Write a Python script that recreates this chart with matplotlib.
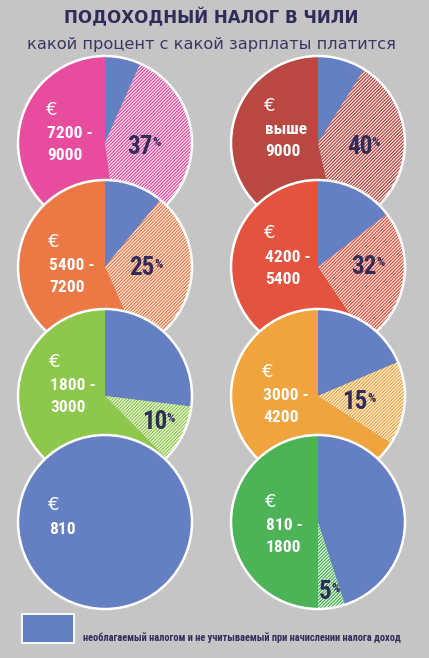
import matplotlib
matplotlib.use("Agg")
import matplotlib.pyplot as plt
from matplotlib.patches import Circle, Rectangle

# Данные: доли секторов (в градусах круга), по порядку: необлагаемый, налог, остальное
brackets = ["7200 -\n9000", "выше\n9000", "5400 -\n7200", "4200 -\n5400",
            "1800 -\n3000", "3000 -\n4200", "810", "810 -\n1800"]
tax_labels = ["37", "40", "25", "32", "10", "15", "", "5"]
exempt_share = [24.0, 32.0, 39.5, 52.6, 97.0, 67.0, 360.0, 162.0]
tax_share = [148.5, 135.5, 116.5, 93.4, 38.5, 56.0, 0.0, 18.0]
rest_share = [187.5, 192.5, 204.0, 214.0, 224.5, 237.0, 0.0, 180.0]
main_colors = ["#e84c9f", "#b94842", "#ec7845", "#e4533f",
               "#8dc74b", "#f0a43e", "#6480c2", "#4db357"]

BG = "#c5c5c5"
BLUE = "#6480c2"
NAVY = "#2f2c5a"
NARROW = ["DejaVu Sans Condensed", "Liberation Sans Narrow", "Roboto Condensed",
          "Open Sans Condensed", "DejaVu Sans"]

# раскладка: 4 ряда по 2 круга
cx = [105, 318]
cy = [143, 267, 396, 522]
R = 87
# позиции подписей диапазона (x левого края) и процента (правый край цифр, центр y)
label_x = [46, 264, 48, 264, 49, 262, 48, 265]
euro_y = [110, 106, 242, 233, 362, 372, 505, 502]
pct_x = [153, 372, 155, 377, 167, 368, 0, 332]
pct_y = [147, 147, 268, 267, 422, 402, 0, 592]

plt.rcParams["hatch.linewidth"] = 0.7

fig = plt.figure(figsize=(4.29, 6.58), dpi=100, facecolor=BG)
ax = fig.add_axes([0, 0, 1, 1])
ax.set_facecolor(BG)

for i in range(8):
    row, col = divmod(i, 2)
    x0, y0 = cx[col], cy[row]
    z = 2 + row * 3
    vals = [exempt_share[i], tax_share[i], rest_share[i]]
    wedges, _ = ax.pie(vals, colors=[BLUE, main_colors[i], main_colors[i]],
                       startangle=-90, counterclock=True, center=(x0, y0),
                       radius=R, frame=True,
                       wedgeprops=dict(edgecolor="white", linewidth=0, zorder=z))
    wedges[1].set_hatch("/" * 10)
    ax.add_patch(Circle((x0, y0), R, facecolor="none", edgecolor="white",
                        linewidth=1.8, zorder=z + 0.5))

    # подписи
    tx = label_x[i]
    ax.text(tx, euro_y[i], "€", color="white", fontsize=13, ha="left",
            va="center", zorder=z + 1)
    lines = brackets[i].split("\n")
    for k, line in enumerate(lines):
        ax.text(tx + 1, euro_y[i] + 24 + 22 * k, line, color="white",
                fontsize=12.5, fontweight="bold", family=NARROW,
                fontstretch="condensed", ha="left", va="center", zorder=z + 1)
    if tax_labels[i]:
        ax.text(pct_x[i], pct_y[i], tax_labels[i], color=NAVY, fontsize=18,
                fontweight="bold", family=NARROW, fontstretch="condensed",
                ha="right", va="center", zorder=z + 1)
        ax.text(pct_x[i] - 0.5, pct_y[i] - 10.5, "%", color=NAVY, fontsize=9.5,
                fontweight="bold", family=NARROW, fontstretch="condensed",
                ha="left", va="top", zorder=z + 1)

# заголовок
ax.text(211, 18, "ПОДОХОДНЫЙ НАЛОГ В ЧИЛИ", color=NAVY, fontsize=12,
        fontweight="bold", ha="center", va="center")
ax.text(211, 44, "какой процент с какой зарплаты платится", color="#3a3862",
        fontsize=11.7, ha="center", va="center")

# легенда
ax.add_patch(Rectangle((22, 614), 52, 29, facecolor=BLUE, edgecolor="white",
                       linewidth=1.3, zorder=20))
ax.text(83, 638, "необлагаемый налогом и не учитываемый при начислении налога доход",
        color=NAVY, fontsize=7.5, fontweight="bold", family=NARROW,
        fontstretch="condensed", ha="left", va="center", zorder=20)

ax.set_xlim(0, 429)
ax.set_ylim(658, 0)
ax.set_aspect("auto")
ax.axis("off")

fig.savefig("out.png", dpi=100, facecolor=BG)
